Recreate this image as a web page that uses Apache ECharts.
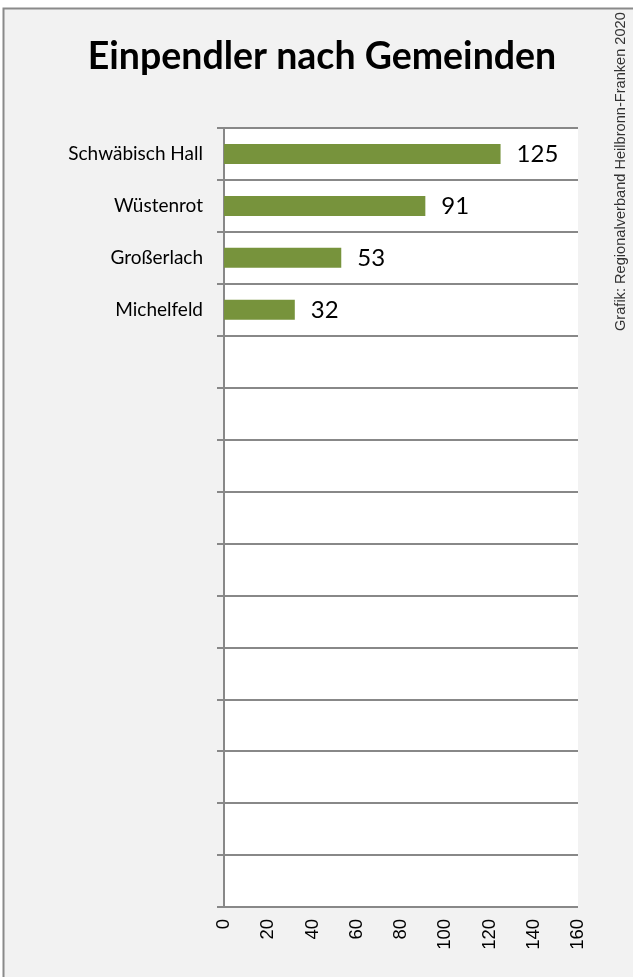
<!DOCTYPE html>
<html>
<head>
<meta charset="utf-8">
<script src="https://cdn.jsdelivr.net/npm/echarts@6/dist/echarts.min.js"></script>
<style>html,body{margin:0;padding:0;background:#fff;}#c{width:633px;height:977px;}</style>
</head>
<body>
<div id="c"></div>
<script>
const title = 'Einpendler nach Gemeinden';
const source = 'Grafik: Regionalverband Heilbronn-Franken 2020';
const categories = ['Schwäbisch Hall', 'Wüstenrot', 'Großerlach', 'Michelfeld', '', '', '', '', '', '', '', '', '', '', ''];
const values = [125, 91, 53, 32];
const xTicks = { min: 0, max: 160, interval: 20 };

const chart = echarts.init(document.getElementById('c'), null, { renderer: 'canvas' });
chart.setOption({
  backgroundColor: '#ffffff',
  animation: false,
  title: {
    text: title,
    left: 317, top: 33, textAlign: 'center',
    textStyle: { fontFamily: 'Lato', fontWeight: 'bold', fontSize: 37.5, color: '#000' }
  },
  graphic: [
    { type: 'rect', z: -10, silent: true,
      shape: { x: 3.5, y: 8.5, width: 700, height: 1000 },
      style: { fill: '#f2f2f2', stroke: '#8a8a8a', lineWidth: 2 } },
    { type: 'text', x: 621, y: 331, rotation: Math.PI / 2,
      style: { text: source, fontFamily: 'Liberation Sans Narrow, Liberation Sans, sans-serif', fontSize: 14.6,
               fill: '#333', align: 'left', verticalAlign: 'middle' } }
  ],
  grid: { left: 224, right: 55, top: 128, bottom: 70, show: true, backgroundColor: '#ffffff', borderWidth: 0, containLabel: false },
  xAxis: {
    type: 'value', min: xTicks.min, max: xTicks.max, interval: xTicks.interval,
    axisLine: { show: false },
    axisTick: { show: false },
    splitLine: { show: false },
    axisLabel: { rotate: 90, margin: 12, fontFamily: 'Liberation Sans', fontSize: 18.5, color: '#000' }
  },
  yAxis: {
    type: 'category', inverse: true, data: categories,
    axisLine: { show: true, lineStyle: { color: '#888', width: 2 } },
    axisTick: { show: true, length: 7, lineStyle: { color: '#888', width: 2 } },
    splitLine: { show: true, lineStyle: { color: '#888', width: 2 } },
    axisLabel: { margin: 21, fontFamily: 'Lato', fontSize: 19, color: '#000' }
  },
  series: [{
    type: 'bar', data: values, barWidth: 20,
    itemStyle: { color: '#77933c' },
    label: { show: true, position: 'right', distance: 16, fontFamily: 'Lato', fontSize: 24, color: '#000' }
  }]
});
</script>
</body>
</html>
